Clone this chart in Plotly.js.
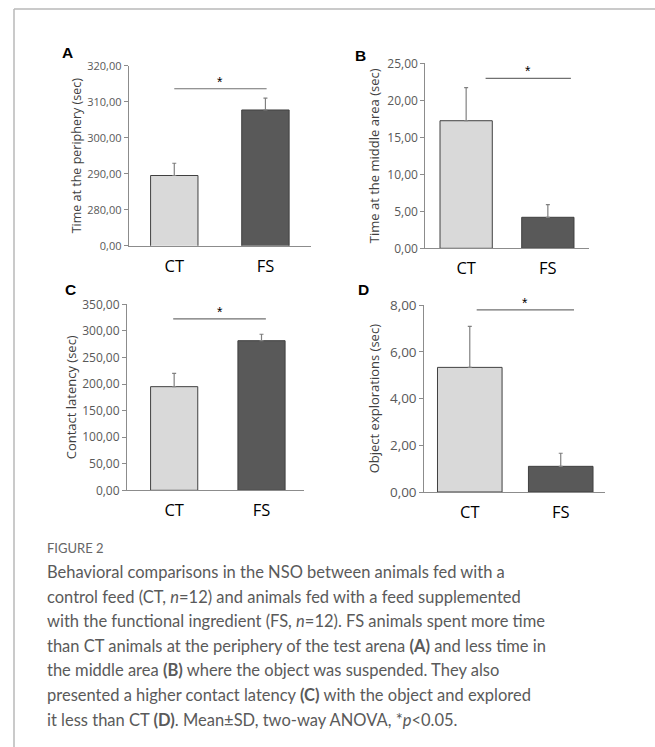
<!DOCTYPE html>
<html>
<head>
<meta charset="utf-8">
<script src="https://cdn.plot.ly/plotly-3.0.1.min.js"></script>
<style>html,body{margin:0;padding:0;background:#fff;}#chart{width:655px;height:747px;}</style>
</head>
<body>
<div id="chart"></div>
<script>
// ---- data ----
const groups = ["CT", "FS"];
const periphery = [289.5, 307.7];
const peripherySD = [3.4, 3.3];
const middleArea = [17.24, 4.19];
const middleAreaSD = [4.46, 1.70];
const contactLatency = [195.0, 281.5];
const contactLatencySD = [25.2, 12.1];
const objectExplorations = [5.34, 1.10];
const objectExplorationsSD = [1.76, 0.56];
const sigLevel = [313.6, 22.97, 322.4, 7.8];
const yTitles = ["Time at the periphery (sec)", "Time at the middle area (sec)", "Contact latency (sec)", "Object explorations (sec)"];
const panelLetters = ["A", "B", "C", "D"];
const periTickVals = [270, 280, 290, 300, 310, 320];
const periTickText = ["0,00", "280,00", "290,00", "300,00", "310,00", "320,00"];

const W = 655, H = 747;
const px = v => v / W;
const py = v => 1 - v / H;

const barColors = ["#d9d9d9", "#595959"];
const panels = [
  {vals: periphery, sd: peripherySD, bw: 0.52, dom: [[128.7, 311], [65.7, 245.7]], xr: [-0.5, 1.5], tf: 11, ttf: 12.5, so: 2, sig: [0.0, 1.013]},
  {vals: middleArea, sd: middleAreaSD, bw: 0.64, dom: [[425.3, 588.7], [63.3, 248.3]], xr: [-0.5, 1.5], tf: 12, ttf: 13, so: 4, sig: [0.238, 1.282]},
  {vals: contactLatency, sd: contactLatencySD, bw: 0.54, dom: [[127, 304.3], [304.3, 490.3]], xr: [-0.54, 1.49], tf: 12, ttf: 13, so: 2, sig: [-0.011, 1.05]},
  {vals: objectExplorations, sd: objectExplorationsSD, bw: 0.71, dom: [[424.3, 605.3], [305.3, 492]], xr: [-0.5, 1.49], tf: 13.5, ttf: 13, so: 7, sig: [0.076, 1.146]}
];
const yRanges = [[270, 320], [0, 25], [0, 350], [0, 8]];
const yDticks = [10, 5, 50, 2];
const letterPos = [[67, 53], [360.7, 55], [70, 290], [363, 289.3]];

const traces = [];
const layout = {
  width: W, height: H,
  margin: {l: 0, r: 0, t: 0, b: 0},
  paper_bgcolor: "#ffffff", plot_bgcolor: "#ffffff",
  showlegend: false,
  separators: ",.",
  font: {family: "Open Sans, sans-serif"},
  shapes: [], annotations: []
};

panels.forEach((p, i) => {
  const s = i === 0 ? "" : String(i + 1);
  traces.push({
    type: "bar", x: groups, y: p.vals, width: p.bw,
    xaxis: "x" + s, yaxis: "y" + s,
    marker: {color: barColors, line: {color: "#404040", width: 1}},
    error_y: {type: "data", array: p.sd, arrayminus: [0, 0], symmetric: false, color: "#808080", thickness: 1.2, width: 2},
    hoverinfo: "skip"
  });
  // significance line
  layout.shapes.push({
    type: "line", xref: "x" + s, yref: "y" + s,
    x0: p.sig[0], x1: p.sig[1], y0: sigLevel[i], y1: sigLevel[i],
    line: {color: "#707070", width: 1.2}
  });
  layout.annotations.push({
    xref: "x" + s, yref: "y" + s, x: (p.sig[0] + p.sig[1]) / 2, y: sigLevel[i],
    text: "*", showarrow: false, yanchor: "bottom", yshift: -3,
    font: {family: "Liberation Sans, Arial, sans-serif", size: 14, color: "#000"}
  });
  const yax = {
    domain: [py(p.dom[1][1]), py(p.dom[1][0])],
    anchor: "x" + s, range: yRanges[i],
    showgrid: false, zeroline: false,
    showline: true, linecolor: "#8c8c8c", linewidth: 1,
    ticks: "outside", ticklen: 4, tickcolor: "#8c8c8c",
    tickfont: {family: "Open Sans, sans-serif", size: p.tf, color: "#595959"},
    title: {text: yTitles[i], font: {family: "Open Sans, sans-serif", size: p.ttf, color: "#404040"}, standoff: p.so},
    automargin: false
  };
  if (i === 0) { yax.tickvals = periTickVals; yax.ticktext = periTickText; }
  else { yax.dtick = yDticks[i]; yax.tickformat = ".2f"; yax.tick0 = 0; }
  layout["yaxis" + s] = yax;
  layout["xaxis" + s] = {
    domain: [px(p.dom[0][0]), px(p.dom[0][1])],
    anchor: "y" + s, range: p.xr, type: "category",
    showgrid: false, zeroline: false,
    showline: true, linecolor: "#8c8c8c", linewidth: 1,
    ticks: "outside", ticklen: 5, tickcolor: "rgba(0,0,0,0)",
    tickfont: {family: "Open Sans, sans-serif", size: 16.5, color: "#000"},
    automargin: false
  };
  layout.annotations.push({
    xref: "paper", yref: "paper", x: px(letterPos[i][0]), y: py(letterPos[i][1]),
    text: "<b>" + panelLetters[i] + "</b>", showarrow: false, xanchor: "center", yanchor: "middle",
    font: {family: "Liberation Sans, Arial, sans-serif", size: 15.5, color: "#000"}
  });
});

// frame
layout.shapes.push({type: "line", xref: "paper", yref: "paper", x0: px(14), x1: px(14), y0: py(9), y1: py(747), line: {color: "#b8b8b8", width: 1.5}});
layout.shapes.push({type: "line", xref: "paper", yref: "paper", x0: px(14), x1: 1, y0: py(9), y1: py(9), line: {color: "#b8b8b8", width: 1.5}});

// caption
const captionLines = [
  "Behavioral comparisons in the NSO between animals fed with a",
  "control feed (CT, <i>n</i>=12) and animals fed with a feed supplemented",
  "with the functional ingredient (FS, <i>n</i>=12). FS animals spent more time",
  "than CT animals at the periphery of the test arena <b>(A)</b> and less time in",
  "the middle area <b>(B)</b> where the object was suspended. They also",
  "presented a higher contact latency <b>(C)</b> with the object and explored",
  "it less than CT <b>(D)</b>. Mean\u00b1SD, two-way ANOVA, *<i>p</i>&lt;0.05."
];
layout.annotations.push({
  xref: "paper", yref: "paper", x: px(45), y: py(548), xanchor: "left", yanchor: "middle",
  text: "FIGURE 2", showarrow: false,
  font: {family: "Lato, sans-serif", size: 13, color: "#666666"}
});
captionLines.forEach((t, k) => {
  layout.annotations.push({
    xref: "paper", yref: "paper", x: px(45), y: py(572 + k * 24.6), xanchor: "left", yanchor: "middle",
    text: t, showarrow: false, align: "left",
    font: {family: "Lato, sans-serif", size: 16.5, color: "#5a5a5a"}
  });
});

Plotly.newPlot("chart", traces, layout, {displayModeBar: false, staticPlot: true});
</script>
</body>
</html>
